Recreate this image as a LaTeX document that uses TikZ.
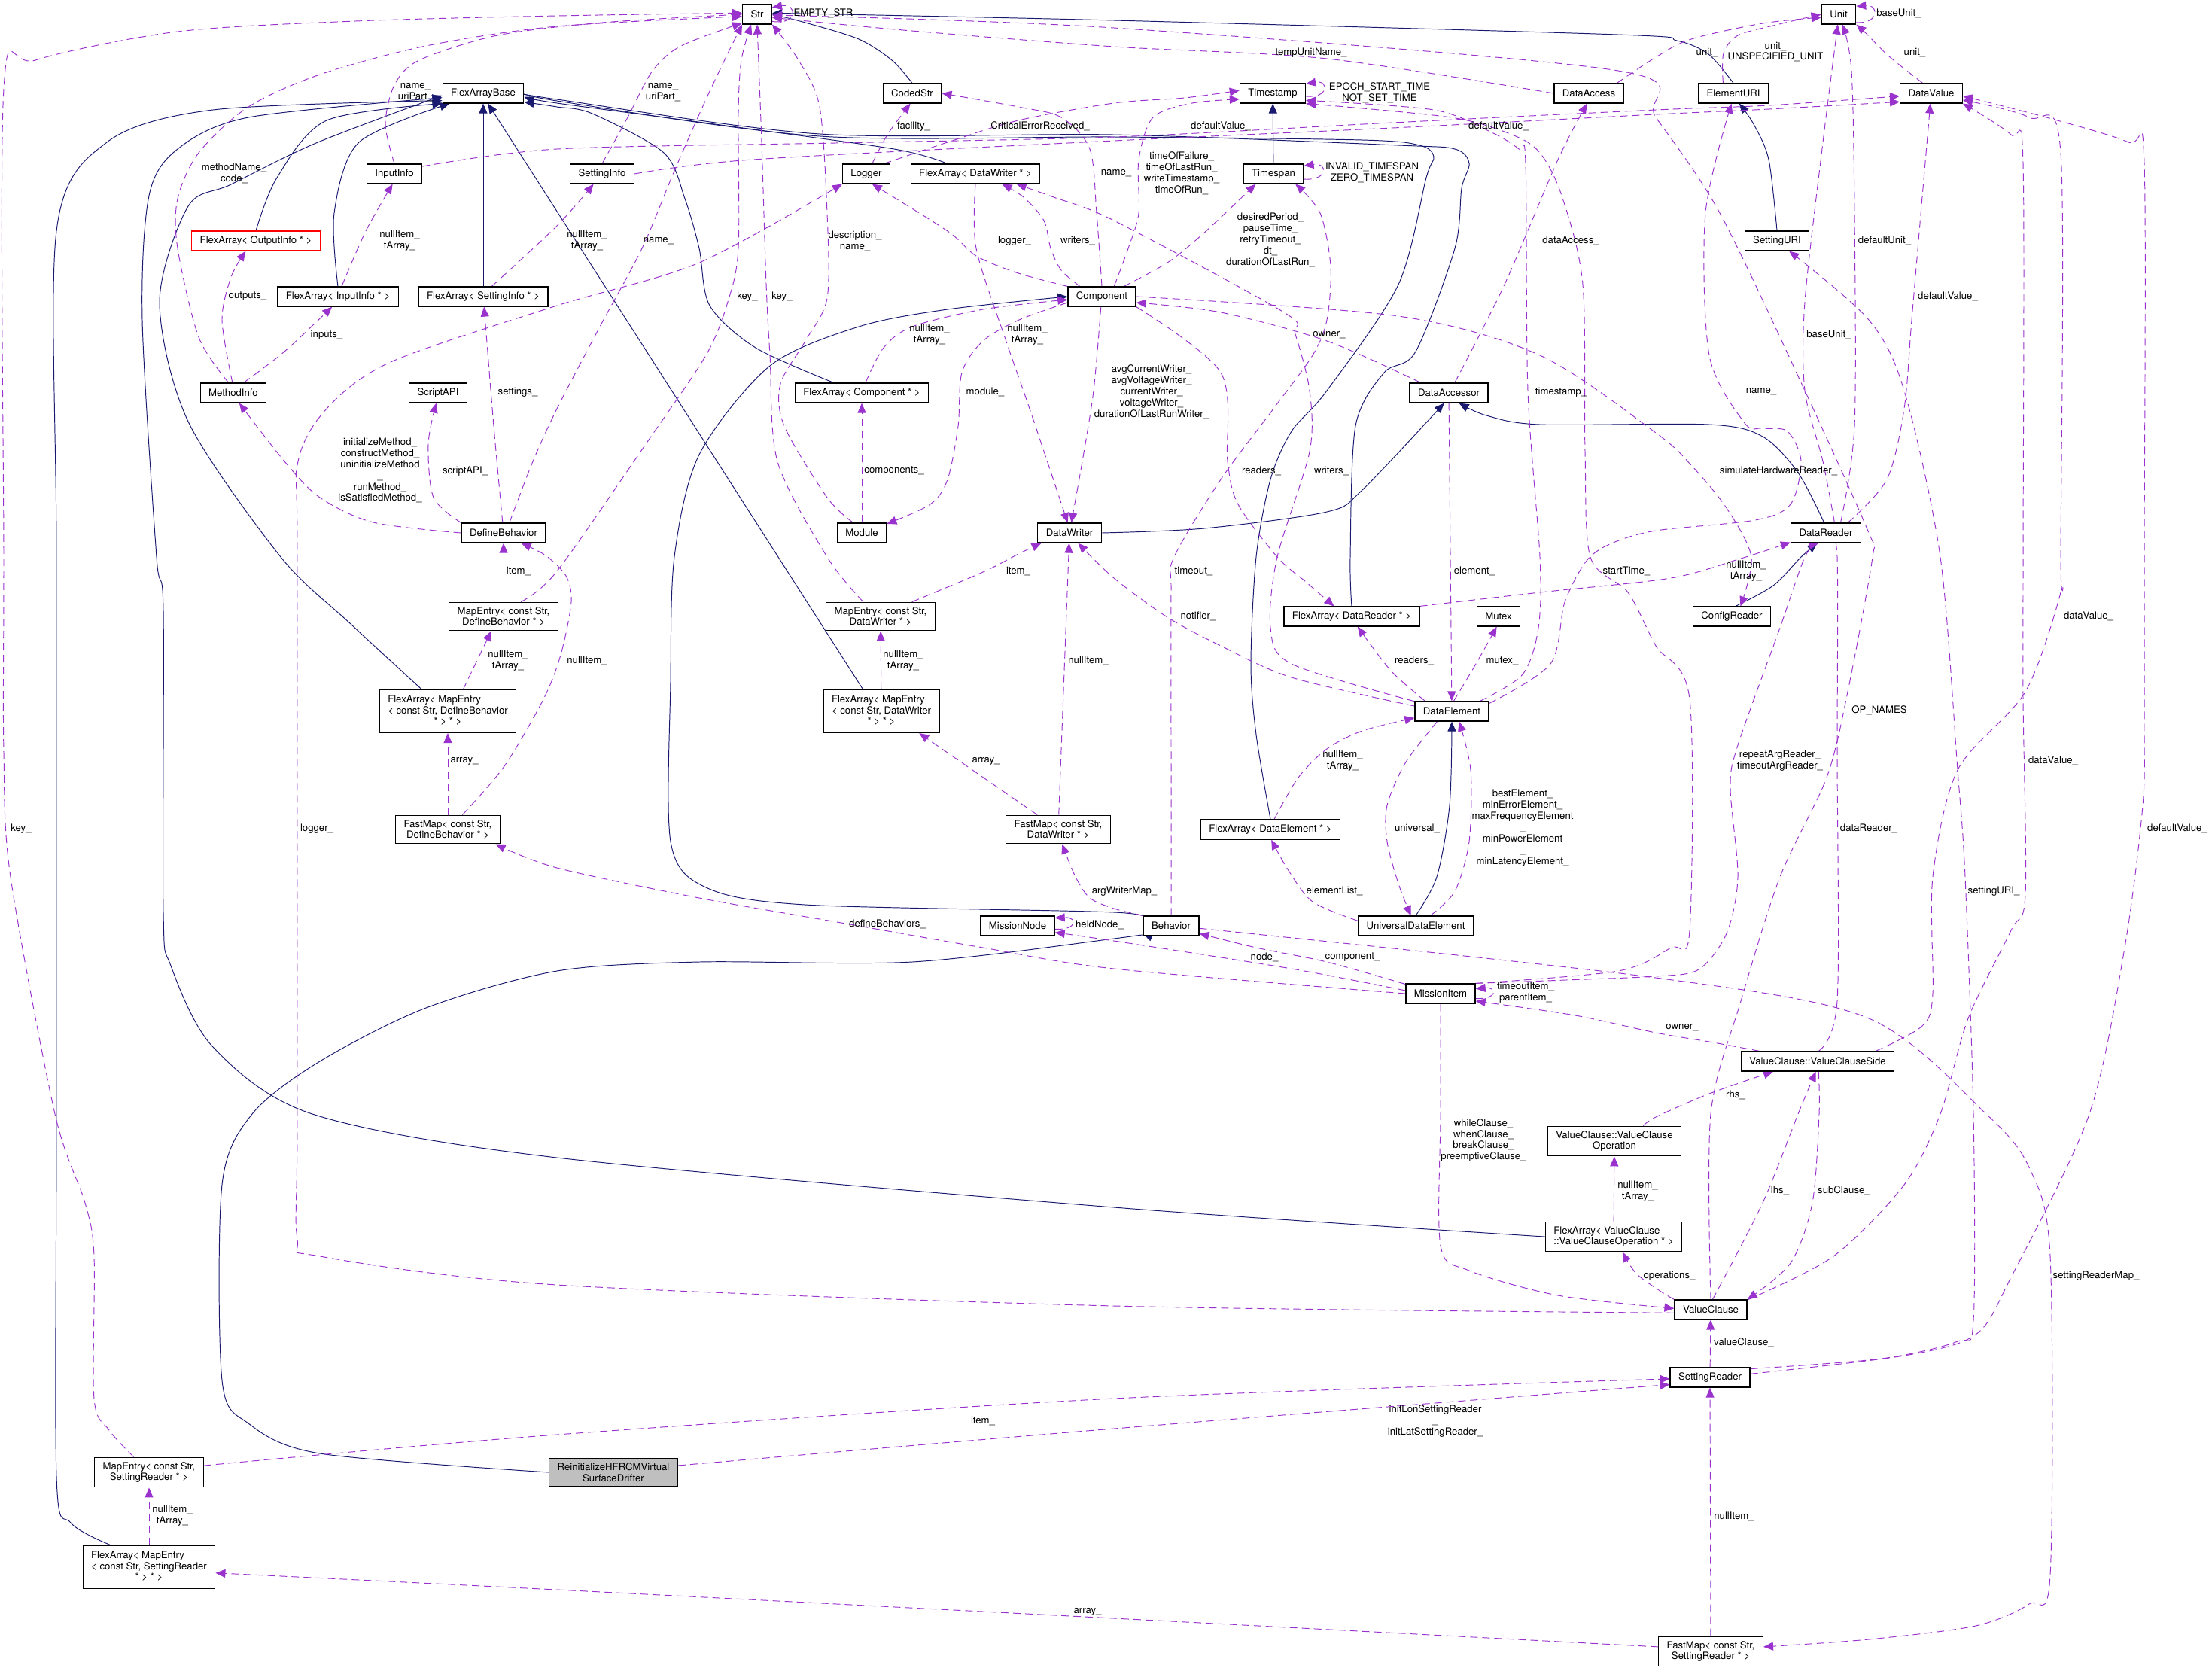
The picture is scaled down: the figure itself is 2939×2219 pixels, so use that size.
\documentclass[tikz,border=0pt]{standalone}
\usepackage{fontspec}
\setmainfont{TeX Gyre Heros}
\usetikzlibrary{arrows.meta, backgrounds}
\definecolor{cnavy}{HTML}{191970}
\definecolor{cpurple}{HTML}{9A32CD}
\definecolor{cgray}{HTML}{BFBFBF}
\newcommand{\threeline}[3]{\begin{tabular}{@{}l@{}}#1\\#2\\\multicolumn{1}{@{}c@{}}{#3}\end{tabular}}
\tikzset{
  cls/.style={draw=black, line width=0.7pt, fill=white, inner xsep=2.2mm, inner ysep=1.2mm, minimum height=5.2mm, align=center},
  usage/.style={draw=cpurple, line width=0.55pt, dash pattern=on 2mm off 1.2mm, -{Triangle[length=2.6mm,width=2.2mm]}},
  inherit/.style={draw=cnavy, line width=0.55pt, -{Triangle[length=2.6mm,width=2.2mm]}},
  lbl/.style={inner sep=0pt, align=center},
}

\begin{document}
\begin{tikzpicture}[x=0.2mm, y=-0.2mm, font=\fontsize{7.5}{8.5}\selectfont]
  \useasboundingbox (0,0) rectangle (2939,2219);
  % classes
  \node[cls] (str) at (1006,19) {Str};
  \node[cls] (unit) at (2443,19) {Unit};
  \node[cls] (flexbase) at (642,124) {FlexArrayBase};
  \node[cls] (codedstr) at (1212,124) {CodedStr};
  \node[cls] (timestamp) at (1691,124) {Timestamp};
  \node[cls] (dataaccess) at (2111,124) {DataAccess};
  \node[cls] (elementuri) at (2303,124) {ElementURI};
  \node[cls] (datavalue) at (2566,124) {DataValue};
  \node[cls] (inputinfo) at (524,231) {InputInfo};
  \node[cls] (settinginfo) at (800,231) {SettingInfo};
  \node[cls] (logger) at (1151,231) {Logger};
  \node[cls] (faDataWriter) at (1296,231) {FlexArray< DataWriter * >};
  \node[cls] (timespan) at (1692,231) {Timespan};
  \node[cls, draw=red] (faOutputInfo) at (340,320) {FlexArray< OutputInfo * >};
  \node[cls] (settinguri) at (2361,320) {SettingURI};
  \node[cls] (faInputInfo) at (449,394) {FlexArray< InputInfo * >};
  \node[cls] (faSettingInfo) at (642,394) {FlexArray< SettingInfo * >};
  \node[cls] (component) at (1464,394) {Component};
  \node[cls] (methodinfo) at (310,522) {MethodInfo};
  \node[cls] (scriptapi) at (582,522) {ScriptAPI};
  \node[cls] (faComponent) at (1145,522) {FlexArray< Component * >};
  \node[cls] (dataaccessor) at (1925,522) {DataAccessor};
  \node[cls] (definebehavior) at (669,708) {DefineBehavior};
  \node[cls] (module) at (1145,708) {Module};
  \node[cls] (datawriter) at (1421,708) {DataWriter};
  \node[cls] (datareader) at (2426,708) {DataReader};
  \node[cls] (meDefBeh) at (669,819) {MapEntry< const Str,\\DefineBehavior * >};
  \node[cls] (meDataWriter) at (1170,819) {MapEntry< const Str,\\DataWriter * >};
  \node[cls] (faDataReader) at (1796,819) {FlexArray< DataReader * >};
  \node[cls] (mutex) at (1991,819) {Mutex};
  \node[cls] (configreader) at (2301,819) {ConfigReader};
  \node[cls] (faMeDefBeh) at (595,945) {\threeline{FlexArray< MapEntry}{< const Str, DefineBehavior}{* > * >}};
  \node[cls] (faMeDataWriter) at (1171,945) {\threeline{FlexArray< MapEntry}{< const Str, DataWriter}{* > * >}};
  \node[cls] (dataelement) at (1929,945) {DataElement};
  \node[cls] (fmDefBeh) at (595,1102) {FastMap< const Str,\\DefineBehavior * >};
  \node[cls] (fmDataWriter) at (1406,1102) {FastMap< const Str,\\DataWriter * >};
  \node[cls] (faDataElement) at (1688,1102) {FlexArray< DataElement * >};
  \node[cls] (missionnode) at (1352,1230) {MissionNode};
  \node[cls] (behavior) at (1556,1230) {Behavior};
  \node[cls] (universal) at (1881,1230) {UniversalDataElement};
  \node[cls] (missionitem) at (1914,1320) {MissionItem};
  \node[cls] (vcside) at (2415,1410) {ValueClause::ValueClauseSide};
  \node[cls] (vcop) at (2145,1516) {ValueClause::ValueClause\\Operation};
  \node[cls, align=left] (faVcop) at (2144,1643) {FlexArray< ValueClause\\::ValueClauseOperation * >};
  \node[cls] (valueclause) at (2273,1740) {ValueClause};
  \node[cls] (settingreader) at (2272,1830) {SettingReader};
  \node[cls] (meSettingReader) at (198,1956) {MapEntry< const Str,\\SettingReader * >};
  \node[cls, fill=cgray] (reinit) at (815,1956) {ReinitializeHFRCMVirtual\\SurfaceDrifter};
  \node[cls] (faMeSettingReader) at (198,2082) {\threeline{FlexArray< MapEntry}{< const Str, SettingReader}{* > * >}};
  \node[cls] (fmSettingReader) at (2273,2194) {FastMap< const Str,\\SettingReader * >};

  \begin{scope}[on background layer]
  % base classes
  \draw[inherit] plot[smooth] coordinates {(codedstr.north) (1185,80) (1141,52) (1070,30) (str.east)};
  \draw[inherit] plot[smooth] coordinates {(elementuri.north) (2270,72) (2228,54) (2150,46) (1480,27) (str.5)};
  \draw[inherit] plot[smooth] coordinates {(settinguri.north) (2350,212) (2330,165) (elementuri.-60)};
  \draw[inherit] (timespan) -- (timestamp);
  \draw[inherit] plot[smooth] coordinates {(datawriter.east) (1600,702) (1763,680) (1810,651) (dataaccessor.-115)};
  \draw[inherit] plot[smooth] coordinates {(datareader.100) (2389,628) (2342,580) (2271,564) (2046,564) (1975,552) (dataaccessor.-45)};
  \draw[inherit] plot[smooth] coordinates {(configreader.70) (2356,778) (2393,740) (datareader.-130)};
  \draw[inherit] plot[smooth] coordinates {(universal.north) (1909,1165) (1926,1070) (dataelement.south)};
  \draw[inherit] plot[smooth] coordinates {(behavior.170) (1480,1212) (1070,1202) (938,1179) (891,1118) (891,905) (896,740) (929,604) (1023,486) (1141,434) (1259,411) (component.west)};
  \draw[inherit] plot[smooth] coordinates {(reinit.west) (425,1931) (330,1891) (295,1834) (295,1574) (335,1480) (425,1410) (566,1339) (740,1290) (929,1278) (1212,1278) (1480,1247) (behavior.-165)};
  \draw[inherit] plot[smooth] coordinates {(faOutputInfo.north) (368,236) (434,160) (flexbase.south west)};
  \draw[inherit] plot[smooth] coordinates {(faInputInfo.north) (444,283) (477,189) (flexbase.-163)};
  \draw[inherit] (faSettingInfo) -- (flexbase);
  \draw[inherit] (faMeDataWriter.130) -- (flexbase.-65);
  \draw[inherit] plot[smooth] coordinates {(faMeDefBeh.140) (466,829) (373,740) (250,560) (212,401) (250,274) (307,245) (420,190) (flexbase.-177)};
  \draw[inherit] plot[smooth] coordinates {(faMeSettingReader.150) (94,2023) (75,1961) (75,1480) (75,740) (75,307) (142,189) (283,146) (flexbase.-170)};
  \draw[inherit] plot[smooth] coordinates {(faVcop.west) (1480,1604) (740,1538) (415,1480) (283,1391) (227,1283) (217,1212) (217,811) (208,740) (189,425) (198,260) (236,198) (330,156) (flexbase.-174)};
  \draw[inherit] plot[smooth] coordinates {(faDataWriter.160) (1188,198) (950,165) (740,137) (flexbase.-5)};
  \draw[inherit] plot[smooth] coordinates {(faComponent.160) (1004,462) (943,406) (929,330) (910,264) (882,203) (787,151) (740,142) (flexbase.-12)};
  \draw[inherit] plot[smooth] coordinates {(faDataReader.north) (1794,740) (1801,566) (1839,495) (1881,467) (1933,330) (1942,250) (1952,217) (1933,198) (1858,193) (1480,179) (1089,178) (740,132) (flexbase.east)};
  \draw[inherit] plot[smooth] coordinates {(faDataElement.north) (1669,976) (1662,882) (1669,740) (1688,637) (1716,573) (1763,519) (1858,378) (1895,236) (1905,208) (1886,193) (1810,186) (1480,182) (1089,181) (740,134) (flexbase.3)};
  % members: Str and CodedStr
  \draw[usage] (str.-25) .. controls (1060,34) and (1060,4) .. (str.25);
  \draw[usage] plot[smooth] coordinates {(inputinfo.north) (512,165) (524,113) (557,80) (661,47) (800,30) (str.west)};
  \draw[usage] plot[smooth] coordinates {(settinginfo.north) (834,156) (867,94) (905,61) (str.-150)};
  \draw[usage] plot[smooth] coordinates {(methodinfo.115) (264,448) (236,330) (236,264) (264,203) (330,142) (425,99) (566,61) (740,35) (str.188)};
  \draw[usage] plot[smooth] coordinates {(definebehavior.60) (708,613) (740,543) (797,434) (853,330) (896,227) (938,132) (967,71) (str.south west)};
  \draw[usage] plot[smooth] coordinates {(meDefBeh.40) (740,759) (858,590) (938,472) (967,401) (981,330) (981,150) (985,80) (str.-120)};
  \draw[usage] plot[smooth] coordinates {(meDataWriter.140) (1099,740) (1033,613) (1023,472) (1018,377) (1012,189) (str.south)};
  \draw[usage] plot[smooth] coordinates {(meSettingReader.135) (145,1900) (125,1858) (125,1669) (113,1598) (73,1480) (14,1165) (5,1000) (5,740) (5,118) (47,80) (236,42) (472,28) (740,21) (str.175)};
  \draw[usage] plot[smooth] coordinates {(module.130) (1099,661) (1042,566) (1037,510) (1070,453) (1099,396) (1099,283) (1089,142) (1061,80) (str.south east)};
  \draw[usage] plot[smooth] coordinates {(dataaccess.west) (1763,78) (1480,62) (1200,40) (str.-12)};
  \draw[usage] plot[smooth] coordinates {(valueclause.north) (2273,1480) (2313,1330) (2365,1165) (2427,1033) (2455,919) (2488,740) (2483,708) (2398,519) (2285,283) (2200,156) (2150,94) (1480,37) (str.-3)};
  \draw[usage] plot[smooth] coordinates {(logger.60) (1179,179) (codedstr.-100)};
  \draw[usage] plot[smooth] coordinates {(component.north) (1457,283) (1448,198) (1410,156) (1353,142) (codedstr.east)};
  % members: info classes and DefineBehavior
  \draw[usage] plot[smooth] coordinates {(faSettingInfo.50) (740,300) (settinginfo.-130)};
  \draw[usage] plot[smooth] coordinates {(faInputInfo.70) (486,307) (inputinfo.-100)};
  \draw[usage] plot[smooth] coordinates {(methodinfo.95) (295,425) (307,368) (faOutputInfo.-135)};
  \draw[usage] plot[smooth] coordinates {(methodinfo.45) (378,467) (faInputInfo.-120)};
  \draw[usage] plot[smooth] coordinates {(definebehavior.95) (656,566) (faSettingInfo.-85)};
  \draw[usage] plot[smooth] coordinates {(definebehavior.west) (496,694) (425,661) (378,613) (methodinfo.-60)};
  \draw[usage] plot[smooth] coordinates {(definebehavior.north west) (576,661) (569,590) (scriptapi.-100)};
  \draw[usage] (meDefBeh) -- (definebehavior);
  \draw[usage] plot[smooth] coordinates {(fmDefBeh.45) (670,1018) (722,929) (745,870) (759,800) (752,765) (725,738) (definebehavior.-30)};
  \draw[usage] (faMeDefBeh.55) -- (meDefBeh.-130);
  \draw[usage] (fmDefBeh) -- (faMeDefBeh);
  \draw[usage] plot[smooth] coordinates {(missionitem.west) (1480,1287) (1306,1259) (1118,1226) (929,1193) (740,1153) (fmDefBeh.-17)};
  % members: Component, writers, loggers
  \draw[usage] plot[smooth] coordinates {(component.north west) (1353,363) (1297,340) (1259,307) (logger.-60)};
  \draw[usage] plot[smooth] coordinates {(valueclause.-175) (1480,1735) (740,1707) (425,1669) (395,1645) (395,1480) (395,740) (396,613) (434,543) (519,481) (740,406) (929,349) (logger.south west)};
  \draw[usage] plot[smooth] coordinates {(component.155) (1410,359) (1396,330) (1387,293) (1360,262) (faDataWriter.-21)};
  \draw[usage] plot[smooth] coordinates {(component.-95) (1453,519) (1438,613) (datawriter.80)};
  \draw[usage] plot[smooth] coordinates {(faDataWriter.south) (1297,330) (1335,448) (1368,543) (datawriter.100)};
  \draw[usage] plot[smooth] coordinates {(meDataWriter.25) (1306,760) (1355,735) (datawriter.-160)};
  \draw[usage] (fmDataWriter) -- (datawriter);
  \draw[usage] plot[smooth] coordinates {(dataelement.172) (1716,900) (1622,858) (1551,820) (1480,768) (datawriter.-50)};
  \draw[usage] plot[smooth] coordinates {(component.-170) (1354,425) (1306,453) (1278,495) (1273,566) (1259,637) (1236,670) (module.20)};
  \draw[usage] (module) -- (faComponent);
  \draw[usage] plot[smooth] coordinates {(faComponent.70) (1174,462) (1212,434) (1306,411) (component.-175)};
  \draw[usage] plot[smooth] coordinates {(dataaccessor.160) (1763,453) (1622,415) (component.-10)};
  \draw[usage] plot[smooth] coordinates {(component.east) (1858,420) (2046,472) (2200,575) (2247,618) (2294,675) (2327,740) (configreader.50)};
  \draw[usage] plot[smooth] coordinates {(component.south east) (1622,495) (1631,613) (1645,670) (1697,740) (1735,773) (faDataReader.150)};
  % members: DataElement
  \draw[usage] plot[smooth] coordinates {(dataelement.159) (1848,891) (faDataReader.-60)};
  \draw[usage] plot[smooth] coordinates {(dataelement.80) (1961,882) (mutex.-100)};
  \draw[usage] (dataaccessor) -- (dataelement);
  \draw[usage] plot[smooth] coordinates {(dataelement.-145) (1867,1014) (1843,1070) (1843,1118) (1858,1174) (universal.115)};
  \draw[usage] plot[smooth] coordinates {(universal.35) (1933,1184) (1952,1118) (1954,1023) (dataelement.-55)};
  \draw[usage] plot[smooth] coordinates {(faDataElement.70) (1725,1033) (1763,995) (1810,971) (dataelement.-170)};
  \draw[usage] plot[smooth] coordinates {(dataelement.165) (1716,882) (1688,834) (1697,740) (1740,600) (1740,519) (1721,444) (1706,415) (1480,293) (1400,262) (faDataWriter.-14)};
  \draw[usage] plot[smooth] coordinates {(dataelement.20) (2023,896) (2044,834) (2046,740) (2030,519) (2027,217) (2018,198) (1980,175) (1905,146) (timestamp.-12)};
  \draw[usage] plot[smooth] coordinates {(dataelement.12) (2060,882) (2079,800) (2108,745) (2141,722) (2200,705) (2332,691) (2379,670) (2393,613) (2375,573) (2342,569) (2318,562) (2271,472) (2266,283) (elementuri.-100)};
  % members: Timestamp, Timespan
  \draw[usage] plot[smooth] coordinates {(missionitem.north east) (2150,1290) (2220,1259) (2245,1236) (2245,929) (2200,858) (2163,787) (2113,740) (2106,600) (2103,378) (2075,260) (2046,203) (2009,179) (1928,156) (timestamp.-17)};
  \draw[usage] plot[smooth] coordinates {(logger.30) (1259,189) (1353,160) (1480,137) (1574,130) (timestamp.175)};
  \draw[usage] plot[smooth] coordinates {(component.40) (1499,330) (1513,283) (1513,212) (1532,156) (1584,137) (timestamp.-170)};
  \draw[usage] (timestamp.-5) .. controls (1766,131) and (1766,106) .. (timestamp.16);
  \draw[usage] (timespan.-10) .. controls (1765,240) and (1765,216) .. (timespan.15);
  \draw[usage] plot[smooth] coordinates {(component.25) (1551,349) (1598,311) (timespan.-150)};
  \draw[usage] plot[smooth] coordinates {(behavior.north) (1556,1000) (1556,787) (1560,740) (1622,637) (1692,543) (1744,472) (1763,425) (1768,354) (1754,283) (timespan.-25)};
  % members: DataValue, Unit, DataAccess
  \draw[usage] plot[smooth] coordinates {(inputinfo.15) (740,198) (1110,190) (1480,182) (1850,163) (2200,146) (2350,140) (datavalue.-175)};
  \draw[usage] plot[smooth] coordinates {(settinginfo.east) (1000,212) (1480,187) (1850,170) (2200,152) (2350,145) (datavalue.-165)};
  \draw[usage] plot[smooth] coordinates {(datareader.25) (2507,637) (2530,543) (2540,425) (2555,250) (datavalue.-95)};
  \draw[usage] plot[smooth] coordinates {(vcside.10) (2554,1363) (2568,1320) (2568,1165) (2601,1023) (2691,919) (2738,787) (2738,740) (2738,203) (2696,156) (datavalue.-12)};
  \draw[usage] plot[smooth] coordinates {(valueclause.15) (2436,1669) (2530,1574) (2578,1480) (2615,1353) (2672,1236) (2691,1188) (2688,929) (2688,740) (2688,217) (2672,179) (datavalue.south east)};
  \draw[usage] plot[smooth] coordinates {(settingreader.5) (2530,1801) (2625,1773) (2672,1697) (2776,1480) (2823,1259) (2847,1070) (2849,957) (2849,740) (2849,217) (2828,189) (2719,156) (datavalue.-5)};
  \draw[usage] plot[smooth] coordinates {(settingreader.12) (2500,1805) (2601,1782) (2622,1754) (2622,1480) (2611,1165) (2601,1023) (2578,740) (2530,519) (2483,425) (settinguri.-40)};
  \draw[usage] plot[smooth] coordinates {(datavalue.130) (2510,75) (2480,45) (unit.south east)};
  \draw[usage] (unit.-25) .. controls (2497,32) and (2497,6) .. (unit.25);
  \draw[usage] plot[smooth] coordinates {(dataaccess.20) (2200,76) (2247,52) (2342,31) (unit.-170)};
  \draw[usage] plot[smooth] coordinates {(elementuri.135) (2290,71) (2309,47) (2360,33) (unit.180)};
  \draw[usage] plot[smooth] coordinates {(datareader.50) (2422,613) (2398,519) (2398,401) (2422,189) (unit.-95)};
  \draw[usage] plot[smooth] coordinates {(datareader.35) (2464,566) (2464,283) (2460,94) (unit.-70)};
  \draw[usage] plot[smooth] coordinates {(dataaccessor.60) (1999,378) (2070,212) (dataaccess.-100)};
  % members: DataReader
  \draw[usage] plot[smooth] coordinates {(faDataReader.north east) (2046,787) (2220,768) (2313,742) (datareader.-165)};
  \draw[usage] plot[smooth] coordinates {(missionitem.north east) (2080,1302) (2200,1297) (2257,1288) (2294,1240) (2309,1165) (2299,1047) (2309,990) (2365,834) (2398,740) (datareader.-125)};
  \draw[usage] plot[smooth] coordinates {(vcside.85) (2441,1330) (2441,1000) (2441,740) (datareader.-70)};
  % members: missions and behaviors
  \draw[usage] plot[smooth] coordinates {(vcside.170) (2271,1384) (2200,1372) (2093,1349) (missionitem.-12)};
  \draw[usage] (missionitem.-8) .. controls (1990,1328) and (1990,1311) .. (missionitem.8);
  \draw[usage] plot[smooth] coordinates {(missionitem.175) (1716,1287) (1480,1250) (missionnode.-10)};
  \draw[usage] (missionnode.-5) .. controls (1432,1236) and (1432,1218) .. (missionnode.12);
  \draw[usage] plot[smooth] coordinates {(missionitem.165) (1763,1278) (1669,1259) (behavior.-15)};
  \draw[usage] plot[smooth] coordinates {(behavior.north west) (1480,1207) (1448,1193) (1429,1165) (fmDataWriter.-75)};
  \draw[usage] (fmDataWriter.145) -- (faMeDataWriter.-30);
  \draw[usage] (faMeDataWriter) -- (meDataWriter);
  \draw[usage] plot[smooth] coordinates {(universal.175) (1744,1198) (1711,1155) (faDataElement.-85)};
  \draw[usage] plot[smooth] coordinates {(behavior.-5) (2200,1299) (2483,1353) (2639,1480) (2696,1551) (2724,1669) (2724,2093) (2696,2131) (2625,2160) (2483,2178) (fmSettingReader.5)};
  \draw[usage] plot[smooth] coordinates {(fmSettingReader.175) (1480,2150) (740,2112) (faMeSettingReader.-5)};
  \draw[usage] (faMeSettingReader) -- (meSettingReader);
  \draw[usage] plot[smooth] coordinates {(meSettingReader.7) (740,1906) (1480,1858) (settingreader.-178)};
  \draw[usage] plot[smooth] coordinates {(reinit.6) (1480,1898) (settingreader.-170)};
  \draw[usage] (settingreader) -- (valueclause);
  \draw[usage] (fmSettingReader) -- (settingreader);
  % members: ValueClause
  \draw[usage] (faVcop) -- (vcop);
  \draw[usage] plot[smooth] coordinates {(vcop.28) (2200,1484) (2271,1453) (vcside.-167)};
  \draw[usage] plot[smooth] coordinates {(valueclause.80) (2342,1598) (2389,1480) (vcside.-100)};
  \draw[usage] plot[smooth] coordinates {(vcside.-85) (2417,1480) (2408,1598) (2379,1678) (valueclause.north east)};
  \draw[usage] plot[smooth] coordinates {(valueclause.north west) (2207,1716) (2174,1692) (faVcop.-60)};
  \draw[usage] plot[smooth] coordinates {(missionitem.south) (1914,1480) (1914,1655) (1952,1688) (2070,1721) (valueclause.178)};
  \end{scope}

  % edge labels
  \node[lbl] (lEmpty) at (1094,18) {EMPTY\_STR};
  \node[lbl] (lInName) at (552,123) {name\_\\uriPart\_};
  \node[lbl] (lSetName) at (881,123) {name\_\\uriPart\_};
  \node[lbl] (lMethName) at (311,230) {methodName\_\\code\_};
  \node[lbl] (lDefName) at (875,320) {name\_};
  \node[lbl] (lKeyDef) at (993,394) {key\_};
  \node[lbl] (lKeyWr) at (1039,394) {key\_};
  \node[lbl] (lKeySr) at (28,1101) {key\_};
  \node[lbl] (lModDesc) at (1136,320) {description\_\\name\_};
  \node[lbl] (lTempUnit) at (1742,70) {tempUnitName\_};
  \node[lbl] (lOpNames) at (2497,944) {OP\_NAMES};
  \node[lbl] (lFacility) at (1214,168) {facility\_};
  \node[lbl] (lCompName) at (1483,230) {name\_};
  \node[lbl] (lNullSet) at (780,320) {nullItem\_\\tArray\_};
  \node[lbl] (lNullIn) at (531,320) {nullItem\_\\tArray\_};
  \node[lbl] (lOutputs) at (329,394) {outputs\_};
  \node[lbl] (lInputs) at (434,445) {inputs\_};
  \node[lbl] (lSettings) at (688,521) {settings\_};
  \node[lbl] (lMethods) at (505,625) {initializeMethod\_\\constructMethod\_\\uninitializeMethod\\\_\\runMethod\_\\isSatisfiedMethod\_};
  \node[lbl] (lScript) at (618,626) {scriptAPI\_};
  \node[lbl] (lItemDef) at (689,759) {item\_};
  \node[lbl] (lNullFmDef) at (780,878) {nullItem\_};
  \node[lbl] (lNullMeDef) at (675,878) {nullItem\_\\tArray\_};
  \node[lbl] (lArrayDef) at (617,1011) {array\_};
  \node[lbl] (lDefBehs) at (1179,1228) {defineBehaviors\_};
  \node[lbl] (lLogComp) at (1348,320) {logger\_};
  \node[lbl] (lLogVc) at (421,1101) {logger\_};
  \node[lbl] (lWritComp) at (1432,320) {writers\_};
  \node[lbl] (lWriters) at (1530,521) {avgCurrentWriter\_\\avgVoltageWriter\_\\currentWriter\_\\voltageWriter\_\\durationOfLastRunWriter\_};
  \node[lbl] (lNullFaWr) at (1365,445) {nullItem\_\\tArray\_};
  \node[lbl] (lItemWr) at (1353,759) {item\_};
  \node[lbl] (lNullFmWr) at (1446,878) {nullItem\_};
  \node[lbl] (lNotifier) at (1592,819) {notifier\_};
  \node[lbl] (lModule) at (1309,521) {module\_};
  \node[lbl] (lComps) at (1188,626) {components\_};
  \node[lbl] (lNullComp) at (1235,445) {nullItem\_\\tArray\_};
  \node[lbl] (lOwnerAcc) at (1766,445) {owner\_};
  \node[lbl] (lSimHw) at (2363,626) {simulateHardwareReader\_};
  \node[lbl] (lReadComp) at (1676,626) {readers\_};
  \node[lbl] (lReadElem) at (1879,878) {readers\_};
  \node[lbl] (lMutex) at (1996,878) {mutex\_};
  \node[lbl] (lElement) at (1959,759) {element\_};
  \node[lbl] (lUniversal) at (1883,1101) {universal\_};
  \node[lbl] (lBest) at (2023,1100) {bestElement\_\\minErrorElement\_\\maxFrequencyElement\\\_\\minPowerElement\\\_\\minLatencyElement\_};
  \node[lbl] (lNullElem) at (1784,1011) {nullItem\_\\tArray\_};
  \node[lbl] (lWritElem) at (1769,626) {writers\_};
  \node[lbl] (lTimestamp) at (2074,521) {timestamp\_};
  \node[lbl] (lStart) at (2161,759) {startTime\_};
  \node[lbl] (lCritical) at (1382,168) {CriticalErrorReceived\_};
  \node[lbl] (lTimeOf) at (1570,230) {timeOfFailure\_\\timeOfLastRun\_\\writeTimestamp\_\\timeOfRun\_};
  \node[lbl] (lEpoch) at (1833,123) {EPOCH\_START\_TIME\\NOT\_SET\_TIME};
  \node[lbl] (lInvalid) at (1823,229) {INVALID\_TIMESPAN\\ZERO\_TIMESPAN};
  \node[lbl] (lPeriod) at (1688,319) {desiredPeriod\_\\pauseTime\_\\retryTimeout\_\\dt\_\\durationOfLastRun\_};
  \node[lbl] (lTimeout) at (1586,759) {timeout\_};
  \node[lbl] (lDefValIn) at (1622,168) {defaultValue\_};
  \node[lbl] (lDefValSet) at (1991,168) {defaultValue\_};
  \node[lbl] (lDefValRd) at (2588,394) {defaultValue\_};
  \node[lbl] (lDataValSide) at (2775,819) {dataValue\_};
  \node[lbl] (lDataValVc) at (2728,1011) {dataValue\_};
  \node[lbl] (lDefValSr) at (2893,1101) {defaultValue\_};
  \node[lbl] (lSetUri) at (2649,1184) {settingURI\_};
  \node[lbl] (lUnitVal) at (2544,70) {unit\_};
  \node[lbl] (lBaseSelf) at (2523,18) {baseUnit\_};
  \node[lbl] (lUnitAcc) at (2268,70) {unit\_};
  \node[lbl] (lUnitUri) at (2359,69) {unit\_\\UNSPECIFIED\_UNIT};
  \node[lbl] (lBaseRd) at (2430,445) {baseUnit\_};
  \node[lbl] (lDefUnit) at (2504,320) {defaultUnit\_};
  \node[lbl] (lDataAcc) at (2087,320) {dataAccess\_};
  \node[lbl] (lNullRd) at (2320,759) {nullItem\_\\tArray\_};
  \node[lbl] (lRepeat) at (2365,1011) {repeatArgReader\_\\timeoutArgReader\_};
  \node[lbl] (lDataRd) at (2483,1101) {dataReader\_};
  \node[lbl] (lOwnerSide) at (2235,1365) {owner\_};
  \node[lbl] (lTimeoutItem) at (2027,1319) {timeoutItem\_\\parentItem\_};
  \node[lbl] (lNode) at (1680,1272) {node\_};
  \node[lbl] (lHeld) at (1461,1229) {heldNode\_};
  \node[lbl] (lCompBeh) at (1797,1272) {component\_};
  \node[lbl] (lArgWr) at (1494,1184) {argWriterMap\_};
  \node[lbl] (lArrayWr) at (1310,1011) {array\_};
  \node[lbl] (lNullMeWr) at (1200,878) {nullItem\_\\tArray\_};
  \node[lbl] (lElemList) at (1773,1184) {elementList\_};
  \node[lbl] (lSrMap) at (2785,1695) {settingReaderMap\_};
  \node[lbl] (lArraySr) at (1445,2141) {array\_};
  \node[lbl] (lNullMeSr) at (229,2014) {nullItem\_\\tArray\_};
  \node[lbl] (lItemSr) at (1306,1888) {item\_};
  \node[lbl] (lInitLon) at (1907,1888) {initLonSettingReader\\\_\\initLatSettingReader\_};
  \node[lbl] (lValueClause) at (2317,1784) {valueClause\_};
  \node[lbl] (lNullFmSr) at (2304,2015) {nullItem\_};
  \node[lbl] (lNullVcop) at (2176,1583) {nullItem\_\\tArray\_};
  \node[lbl] (lRhs) at (2306,1455) {rhs\_};
  \node[lbl] (lLhs) at (2365,1582) {lhs\_};
  \node[lbl] (lSub) at (2450,1582) {subClause\_};
  \node[lbl] (lOps) at (2218,1695) {operations\_};
  \node[lbl] (lWhile) at (1971,1515) {whileClause\_\\whenClause\_\\breakClause\_\\preemptiveClause\_};
  \node[lbl] (lNameElem) at (2340,520) {name\_};
\end{tikzpicture}
\end{document}
